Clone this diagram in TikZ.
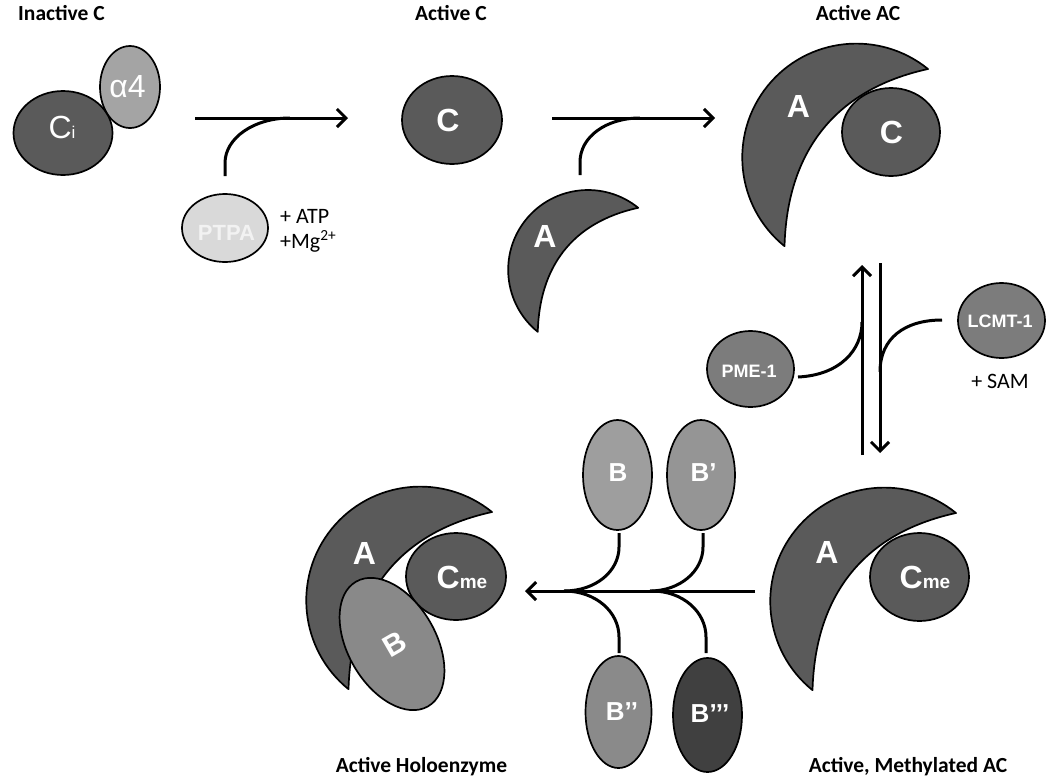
\documentclass[tikz,border=0pt]{standalone}
\usepackage{fontspec}
\setmainfont{Carlito}
\newfontfamily\arialf{Liberation Sans}
\usetikzlibrary{shapes.geometric,arrows.meta}
\definecolor{cdark}{HTML}{5A5A5A}
\definecolor{calpha}{HTML}{A4A4A4}
\definecolor{cptpa}{HTML}{D9D9D9}
\definecolor{cptpat}{HTML}{F2F2F2}
\definecolor{cpme}{HTML}{7C7C7C}
\definecolor{cbone}{HTML}{9E9E9E}
\definecolor{cbtwo}{HTML}{959595}
\definecolor{cbthree}{HTML}{8A8A8A}
\definecolor{cbfour}{HTML}{404040}
\definecolor{cbholo}{HTML}{898989}
\newcommand\crescentat[3]{\draw[cres, shift={(#1,#2)}, scale=#3] (186,24) arc[start angle=-51, end angle=-231, radius=114] .. controls (45,110) and (90,45) .. (186,24) -- cycle;}
\begin{document}
\begin{tikzpicture}[x=1pt,y=-1pt,
  prot/.style={ellipse, draw=black, line width=1.7pt, inner sep=0pt},
  cres/.style={fill=cdark, draw=black, line width=1.7pt, line join=round},
  lbl/.style={font=\bfseries\fontsize{21.5}{24}\selectfont, anchor=base, inner sep=0pt},
  plus/.style={font=\fontsize{22}{24}\selectfont, inner sep=0pt},
  big/.style={font=\arialf\bfseries\fontsize{32}{32}\selectfont, text=white, inner sep=0pt},
  reg/.style={font=\arialf\fontsize{32}{32}\selectfont, text=white, inner sep=0pt},
  btxt/.style={font=\arialf\bfseries\fontsize{26}{26}\selectfont, text=white, inner sep=0pt},
  small/.style={font=\arialf\bfseries\fontsize{18}{18}\selectfont, text=white, inner sep=0pt},
  arr/.style={line width=3pt, -{Straight Barb[length=9pt,width=18pt]}},
  feed/.style={line width=3pt},
]
\useasboundingbox (0,0) rectangle (1050,780);

% ---- titles
\node[lbl] (t1) at (61.5,20) {Inactive C};
\node[lbl] (t2) at (451,20) {Active C};
\node[lbl] (t3) at (858,20) {Active AC};
\node[lbl] (t4) at (421.5,772) {Active Holoenzyme};
\node[lbl] (t5) at (908,772) {Active, Methylated AC};

% ---- Inactive C
\node[prot, fill=cdark, minimum width=99pt, minimum height=84pt] (ci) at (63,133) {};
\node[prot, fill=calpha, minimum width=60pt, minimum height=82pt] (a4) at (130,87) {};
\node[reg, anchor=base] (cit) at (62,138) {C{\fontsize{17}{17}\selectfont i}};
\node[reg, anchor=base] (a4t) at (127.5,97) {α4};

% ---- arrow 1 with PTPA
\coordinate (a1s) at (195,118);
\coordinate (a1e) at (348,118);
\draw[arr] (a1s) -- (a1e);
\node[prot, fill=cptpa, minimum width=86pt, minimum height=68pt] (ptpa) at (225,228) {};
\node[font=\arialf\bfseries\fontsize{22}{22}\selectfont, text=cptpat, inner sep=0pt] (ptpat) at (226.5,233) {PTPA};
\coordinate (p1) at (225,176);
\coordinate (m1) at (290,118);
\draw[feed] (p1) -- (225,163) .. controls (225,138) and (254,118) .. (m1);
\node[plus, anchor=base west] (atp) at (280,223) {+ ATP};
\node[plus, anchor=base west] (mg) at (280,248) {+Mg\textsuperscript{2+}};

% ---- Active C
\node[prot, fill=cdark, minimum width=100pt, minimum height=88pt] (c) at (452,120) {};
\node[big] (ct) at (448,120) {C};

% ---- arrow 2 with A
\coordinate (a2s) at (552,118);
\coordinate (a2e) at (715,118);
\draw[arr] (a2s) -- (a2e);
\crescentat{508}{191}{0.7}
\node[big] (at) at (545,236) {A};
\coordinate (p2) at (580,175);
\coordinate (m2) at (640,118);
\draw[feed] (p2) -- (580,162) .. controls (580,137) and (606,118) .. (m2);

% ---- Active AC
\crescentat{742}{45}{1}
\node[big] (acat) at (798.5,106.5) {A};
\node[prot, fill=cdark, minimum width=98pt, minimum height=88pt] (acc) at (891,132) {};
\node[big] (acct) at (891.5,132) {C};

% ---- methylation equilibrium
\coordinate (ups) at (862,455);
\coordinate (upe) at (862,265);
\coordinate (dns) at (880,263);
\coordinate (dne) at (880,453);
\draw[arr] (ups) -- (upe);
\draw[arr] (dns) -- (dne);
\node[prot, fill=cpme, minimum width=87pt, minimum height=76pt] (pme) at (750.5,369) {};
\node[small] (pmet) at (749,371) {PME-1};
\node[prot, fill=cpme, minimum width=87pt, minimum height=75pt] (lcmt) at (1001.5,320.5) {};
\node[small] (lcmtt) at (1000,321) {LCMT-1};
\node[plus, anchor=base] (sam) at (1000,388) {+ SAM};
\coordinate (p3) at (798,377);
\coordinate (m3) at (862,322);
\draw[feed] (p3) .. controls (840,375) and (862,350) .. (m3);
\coordinate (p4) at (942,320);
\coordinate (m4) at (880,372);
\draw[feed] (p4) .. controls (905,320) and (880,338) .. (m4);

% ---- Active, methylated AC
\crescentat{770}{489}{1}
\node[big] (mat) at (827,552.5) {A};
\node[prot, fill=cdark, minimum width=99pt, minimum height=88pt] (mc) at (919.5,577) {};
\node[big, anchor=base] (mct) at (925,588) {C{\fontsize{19}{19}\selectfont me}};

% ---- B subunits and arrow
\coordinate (bas) at (755,591);
\coordinate (bae) at (525,591);
\draw[arr] (bas) -- (bae);
\node[prot, fill=cbone, minimum width=69pt, minimum height=110pt] (b1) at (617.5,475) {};
\node[btxt] (b1t) at (618,472.5) {B};
\node[prot, fill=cbtwo, minimum width=68pt, minimum height=110pt] (b2) at (701,475) {};
\node[btxt] (b2t) at (703.5,472.5) {B’};
\node[prot, fill=cbthree, minimum width=66pt, minimum height=112pt] (b3) at (618.5,712) {};
\node[btxt] (b3t) at (622,712) {B’’};
\node[prot, fill=cbfour, minimum width=69pt, minimum height=114pt] (b4) at (707.5,715) {};
\node[btxt] (b4t) at (710,714) {B’’’};
\coordinate (q1) at (619,533);
\coordinate (n1) at (564,591);
\draw[feed] (q1) -- (619,547) .. controls (619,571) and (596,591) .. (n1);
\coordinate (q2) at (703,533);
\coordinate (n2) at (650,591);
\draw[feed] (q2) -- (703,547) .. controls (703,571) and (680,591) .. (n2);
\coordinate (q3) at (619,653);
\coordinate (n3) at (564,591);
\draw[feed] (q3) -- (619,637) .. controls (619,612) and (596,591) .. (n3);
\coordinate (q4) at (706,653);
\coordinate (n4) at (652,591);
\draw[feed] (q4) -- (706,637) .. controls (706,612) and (683,591) .. (n4);

% ---- Holoenzyme
\crescentat{306}{488}{1}
\node[big] (hat) at (364.5,553) {A};
\node[prot, fill=cdark, minimum width=100pt, minimum height=87pt] (hc) at (456,576.5) {};
\node[big, anchor=base] (hct) at (462,588) {C{\fontsize{19}{19}\selectfont me}};
\node[prot, fill=cbholo, minimum width=88pt, minimum height=144pt, rotate=30] (hb) at (392,644) {};
\node[big, rotate=30, font=\arialf\bfseries\fontsize{30}{30}\selectfont] (hbt) at (395,644.5) {B};
\end{tikzpicture}
\end{document}
